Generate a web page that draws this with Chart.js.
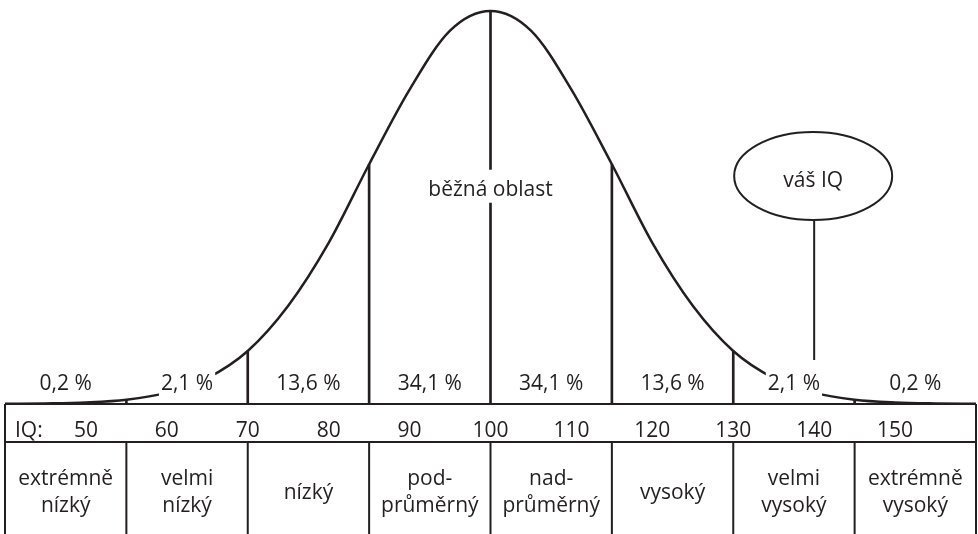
<!DOCTYPE html>
<html>
<head>
<meta charset="utf-8">
<script src="https://cdn.jsdelivr.net/npm/chart.js@4/dist/chart.umd.min.js"></script>
<style>
  html, body { margin: 0; padding: 0; background: #fff; }
</style>
</head>
<body>
<canvas id="iqChart" width="978" height="534"></canvas>
<script>
// curve, height as a share of the peak
const iqValues = [40, 45, 50, 55, 60, 65, 70, 75, 80, 85, 90, 95, 100,
                  105, 110, 115, 120, 125, 130, 135, 140, 145, 150, 155, 160];
const curveHeights = [0.0005, 0.0015, 0.004, 0.011, 0.029, 0.066, 0.135, 0.25, 0.41, 0.61, 0.80, 0.95, 1.0,
                      0.95, 0.80, 0.61, 0.41, 0.25, 0.135, 0.066, 0.029, 0.011, 0.004, 0.0015, 0.0005];

const bandEdges = [40, 55, 70, 85, 100, 115, 130, 145, 160];
const dividers = [55, 70, 85, 100, 115, 130, 145];
const percentLabels = ['0,2 %', '2,1 %', '13,6 %', '34,1 %', '34,1 %', '13,6 %', '2,1 %', '0,2 %'];
const bandNames = [
  ['extrémně', 'nízký'], ['velmi', 'nízký'], ['nízký'], ['pod-', 'průměrný'],
  ['nad-', 'průměrný'], ['vysoký'], ['velmi', 'vysoký'], ['extrémně', 'vysoký']
];
const iqTicks = [50, 60, 70, 80, 90, 100, 110, 120, 130, 140, 150];
const yourIQ = 140;
const centreLabel = 'běžná oblast';
const yourLabel = 'váš IQ';

const ink = '#231f20';
const font = '21px "Open Sans"';

const dividerBars = dividers.map(v => ({ x: v, y: curveHeights[iqValues.indexOf(v)] }));

function textBox(ctx, text, x, baseline, up, down) {
  const w = ctx.measureText(text).width;
  ctx.fillStyle = '#fff';
  ctx.fillRect(x - w / 2 - 2, baseline - up, w + 4, up + down);
  ctx.fillStyle = ink;
  ctx.fillText(text, x, baseline);
}

const overlay = {
  id: 'overlay',
  afterDatasetsDraw(chart) {
    const ctx = chart.ctx;
    const xs = chart.scales.x;
    const ys = chart.scales.y;
    const area = chart.chartArea;
    const base = area.bottom;
    const rowLine = base + 38;
    const bottom = chart.height;

    ctx.save();
    ctx.strokeStyle = ink;
    ctx.lineWidth = 2;

    // table frame
    ctx.beginPath();
    ctx.moveTo(area.left, base); ctx.lineTo(area.right, base);
    ctx.moveTo(area.left, rowLine); ctx.lineTo(area.right, rowLine);
    ctx.moveTo(area.left, base); ctx.lineTo(area.left, bottom);
    ctx.moveTo(area.right, base); ctx.lineTo(area.right, bottom);
    dividers.forEach(v => {
      const px = xs.getPixelForValue(v);
      ctx.moveTo(px, rowLine); ctx.lineTo(px, bottom);
    });
    ctx.stroke();

    ctx.font = font;
    ctx.textAlign = 'center';
    ctx.textBaseline = 'alphabetic';

    // percentages
    percentLabels.forEach((t, i) => {
      const mid = (bandEdges[i] + bandEdges[i + 1]) / 2;
      textBox(ctx, t, xs.getPixelForValue(mid), base - 14, 23, 9);
    });

    // centre label
    textBox(ctx, centreLabel, xs.getPixelForValue(100), ys.getPixelForValue(0.53), 26, 7);

    // IQ: row label
    ctx.textAlign = 'left';
    ctx.fillStyle = ink;
    ctx.fillText('IQ:', area.left + 10, rowLine - 5);

    // band names
    ctx.textAlign = 'center';
    bandNames.forEach((lines, i) => {
      const mid = xs.getPixelForValue((bandEdges[i] + bandEdges[i + 1]) / 2);
      lines.forEach((t, j) => {
        const y = rowLine + 56.5 + (j - (lines.length - 1) / 2) * 27;
        ctx.fillText(t, mid, y);
      });
    });

    // your IQ balloon
    const bx = xs.getPixelForValue(yourIQ);
    ctx.beginPath();
    ctx.ellipse(bx - 1, 176, 79, 44, 0, 0, Math.PI * 2);
    ctx.moveTo(bx, 220);
    ctx.lineTo(bx, base - 44);
    ctx.stroke();
    ctx.fillText(yourLabel, bx - 1, 187);

    ctx.restore();
  }
};

new Chart(document.getElementById('iqChart'), {
  type: 'line',
  data: {
    datasets: [{
      type: 'line',
      data: iqValues.map((v, i) => ({ x: v, y: curveHeights[i] })),
      borderColor: ink,
      borderWidth: 2.5,
      pointRadius: 0,
      cubicInterpolationMode: 'monotone',
      fill: false,
      clip: 6
    }, {
      type: 'bar',
      data: dividerBars,
      backgroundColor: ink,
      barThickness: 2,
      clip: 6
    }]
  },
  options: {
    responsive: false,
    animation: false,
    devicePixelRatio: 1,
    layout: { padding: { left: 5, right: 2, top: 11, bottom: 0 } },
    plugins: { legend: { display: false }, tooltip: { enabled: false } },
    scales: {
      x: {
        type: 'linear',
        min: 40,
        max: 160,
        offset: false,
        grid: { display: false, drawTicks: false },
        border: { display: false },
        afterBuildTicks: s => { s.ticks = iqTicks.map(v => ({ value: v })); },
        afterFit: s => { s.height = 130; },
        ticks: {
          autoSkip: false,
          maxRotation: 0,
          padding: 14,
          color: ink,
          font: { family: 'Open Sans', size: 21 }
        }
      },
      y: { display: false, min: 0, max: 1 }
    }
  },
  plugins: [overlay]
});
</script>
</body>
</html>
